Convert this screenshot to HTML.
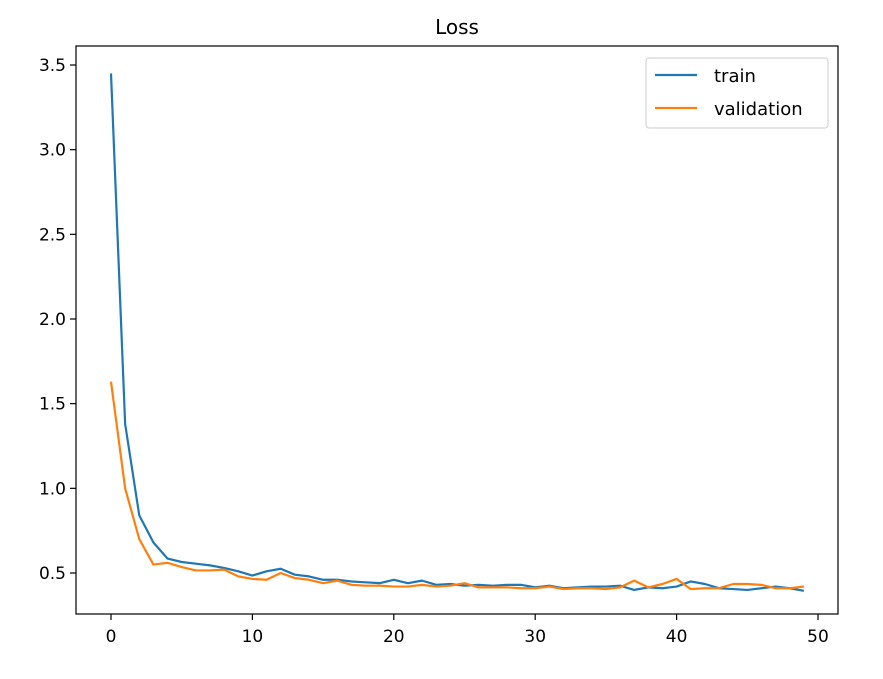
<!DOCTYPE html>
<html><head><meta charset="utf-8"><style>
body{margin:0;background:#fff}
svg{font-family:"DejaVu Sans","Liberation Sans",sans-serif}
</style></head><body>
<svg width="883" height="674" id="c">
<rect x="0" y="0" width="883" height="674" fill="#fff"/>
<text x="457" y="34" font-size="20" text-anchor="middle">Loss</text>
<g id="plot"></g>
<rect x="76" y="46" width="762" height="568" fill="none" stroke="#000" stroke-width="1.2"/>
<g>
<rect x="646" y="58" width="182" height="70" rx="3" fill="#fff" stroke="#ccc"/>
<line x1="655" y1="75" x2="697" y2="75" stroke="#1f77b4" stroke-width="2.2"/>
<text x="714" y="82" font-size="18">train</text>
<line x1="655" y1="108" x2="697" y2="108" stroke="#ff7f0e" stroke-width="2.2"/>
<text x="714" y="115" font-size="18">validation</text>
</g>
</svg>
<script>
const xTicks=[0,10,20,30,40,50];
const yTicks=[0.5,1.0,1.5,2.0,2.5,3.0,3.5];
const train=[3.45,1.38,0.84,0.68,0.585,0.565,0.555,0.545,0.53,0.51,0.485,0.51,0.525,0.49,0.48,0.46,0.46,0.45,0.445,0.44,0.46,0.44,0.455,0.43,0.435,0.425,0.43,0.425,0.43,0.43,0.415,0.425,0.41,0.415,0.42,0.42,0.425,0.4,0.415,0.41,0.42,0.45,0.435,0.41,0.405,0.4,0.41,0.42,0.41,0.395];
const validation=[1.63,1.0,0.7,0.55,0.56,0.535,0.515,0.515,0.52,0.48,0.465,0.46,0.5,0.47,0.46,0.44,0.455,0.43,0.425,0.425,0.42,0.42,0.43,0.42,0.425,0.44,0.415,0.415,0.415,0.41,0.41,0.42,0.405,0.41,0.41,0.405,0.415,0.455,0.415,0.435,0.465,0.405,0.41,0.41,0.435,0.435,0.43,0.41,0.41,0.42];
const NS='http://www.w3.org/2000/svg';
const X=v=>111+v*(818-111)/50;
const Y=v=>573-(v-0.5)*(573-65)/3;
const g=document.getElementById('plot');
function el(t,a){const e=document.createElementNS(NS,t);for(const k in a)e.setAttribute(k,a[k]);g.appendChild(e);return e;}
xTicks.forEach(t=>{
 const l=el('line',{x1:X(t),x2:X(t),y1:614,y2:620,stroke:'#000','stroke-width':1.2});
 
 
 const s=el('text',{x:X(t),y:642,'font-size':17,'text-anchor':'middle'});s.textContent=t;
 
 
});
yTicks.forEach(t=>{
 const l=el('line',{x1:70,x2:76,y1:Y(t),y2:Y(t),stroke:'#000','stroke-width':1.2});
 
 
 const s=el('text',{x:66,y:Y(t)+6,'font-size':17,'text-anchor':'end'});s.textContent=t.toFixed(1);
 
 
});
[[train,'#1f77b4','train-line'],[validation,'#ff7f0e','validation-line']].forEach(([d,c,n])=>{
 const p=el('polyline',{points:d.map((v,i)=>X(i)+','+Y(v)).join(' '),fill:'none',stroke:c,'stroke-width':2.2,'stroke-linejoin':'round'});
 
 
});
</script>
</body></html>
